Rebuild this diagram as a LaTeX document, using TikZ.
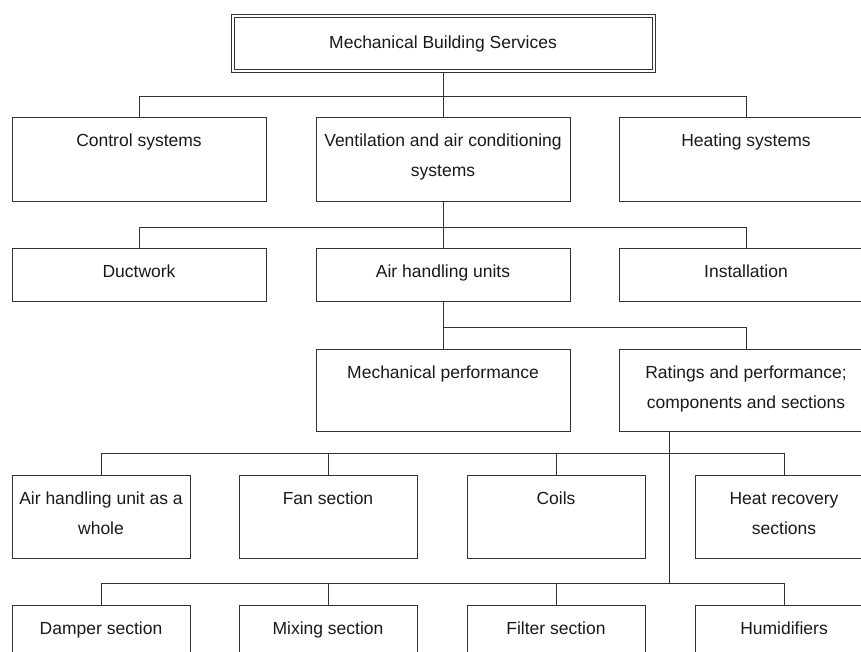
\documentclass[tikz,border=0pt]{standalone}
\usepackage{fontspec}
\setmainfont{Liberation Sans}
\usetikzlibrary{calc,positioning}
\newcommand{\boxtext}[3]{\parbox[c][#2pt][t]{#1pt}{\centering\rule{0pt}{29pt}#3}}
\tikzset{%
	unit/.style    = {draw, rectangle, anchor=north west, inner sep=0pt, outer sep=0pt},
	headbox/.style = {draw, rectangle, minimum width=424pt, minimum height=58pt, inner sep=0pt, outer sep=0pt},
	link/.style    = {draw, line width=1pt},
}

\begin{document}
\begin{tikzpicture}[x=1pt,y=-1pt,line width=1pt,draw=black!80,
	every node/.style={font=\fontsize{17.5}{30}\selectfont, text=black!90}]
		\useasboundingbox (0,0) rectangle (861,652);
		\clip (0,0) rectangle (861,652);
		\node[headbox] (mbs) at (443,44) {Mechanical Building Services};
		\draw ([shift={(3,3)}]mbs.north west) rectangle ([shift={(-3,-3)}]mbs.south east); % inner frame
		% second level
		\node[unit] (ctrl) at (12,118) {\boxtext{254}{84}{Control systems}};
		\node[unit] (vent) at (316,118) {\boxtext{254}{84}{Ventilation and air conditioning\\ systems}};
		\node[unit] (heat) at (619,118) {\boxtext{254}{84}{Heating systems}};
		% third level
		\node[unit] (duct) at (12,248) {\boxtext{254}{53}{Ductwork}};
		\node[unit] (ahu) at (316,248) {\boxtext{254}{53}{Air handling units}};
		\node[unit] (inst) at (619,248) {\boxtext{254}{53}{Installation}};
		% fourth level
		\node[unit] (mech) at (316,349) {\boxtext{254}{82}{Mechanical performance}};
		\node[unit] (rat) at (619,349) {\boxtext{254}{82}{Ratings and performance;\\ components and sections}};
		% components
		\node[unit] (ahuw) at (12,475) {\boxtext{178}{83}{Air handling unit as a\\ whole}};
		\node[unit] (fan) at (239,475) {\boxtext{178}{83}{Fan section}};
		\node[unit] (coil) at (467,475) {\boxtext{178}{83}{Coils}};
		\node[unit] (hru) at (695,475) {\boxtext{178}{83}{Heat recovery\\ sections}};
		\node[unit] (damp) at (12,605) {\boxtext{178}{53}{Damper section}};
		\node[unit] (mix) at (239,605) {\boxtext{178}{53}{Mixing section}};
		\node[unit] (filt) at (467,605) {\boxtext{178}{53}{Filter section}};
		\node[unit] (humi) at (695,605) {\boxtext{178}{53}{Humidifiers}};
		% connectors
		\coordinate (busA) at (mbs.south |- 0,96.5);
		\draw[link] (mbs.south) -- (vent.north);
		\draw[link] (ctrl.north) |- (busA) -| (heat.north);
		\coordinate (busB) at (vent.south |- 0,227.5);
		\draw[link] (vent.south) -- (ahu.north);
		\draw[link] (duct.north) |- (busB) -| (inst.north);
		\draw[link] (ahu.south) -- (mech.north);
		\draw[link] (ahu.south |- 0,327.5) -| (rat.north);
		\coordinate (trunk) at ($(rat.south west)!0.2!(rat.south east)$);
		\coordinate (busE) at (trunk |- 0,453.5);
		\coordinate (busF) at (trunk |- 0,583.5);
		\draw[link] (trunk) -- (busF);
		\draw[link] (ahuw.north) |- (busE) -| (hru.north);
		\draw[link] (fan.north) -- (fan.north |- busE);
		\draw[link] (coil.north) -- (coil.north |- busE);
		\draw[link] (damp.north) |- (busF) -| (humi.north);
		\draw[link] (mix.north) -- (mix.north |- busF);
		\draw[link] (filt.north) -- (filt.north |- busF);
\end{tikzpicture}
\end{document}
